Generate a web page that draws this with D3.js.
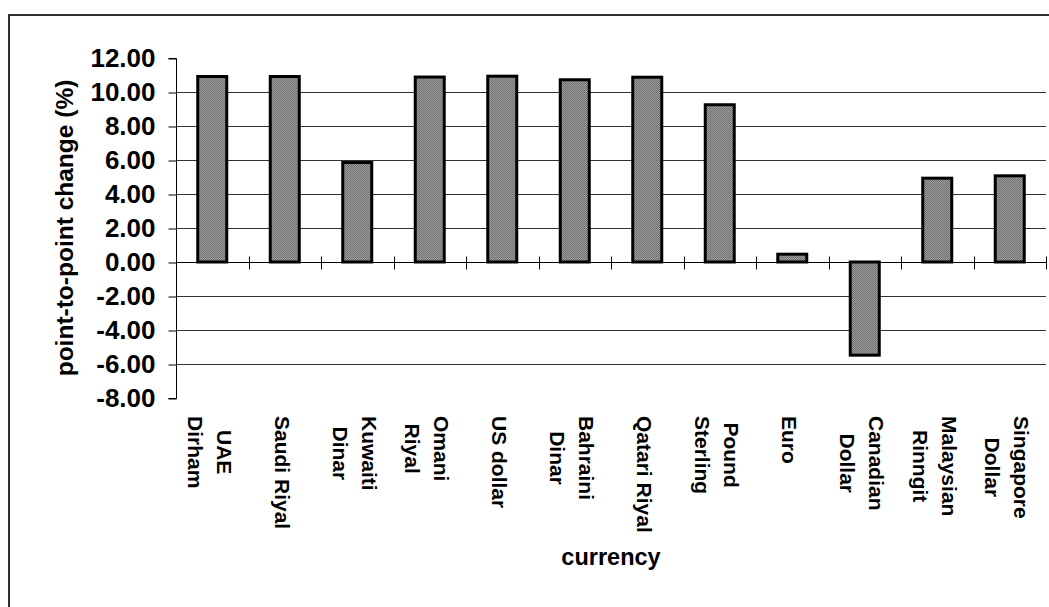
<!DOCTYPE html>
<html>
<head>
<meta charset="utf-8">
<script src="https://cdn.jsdelivr.net/npm/d3@7"></script>
<style>
  html, body { margin: 0; padding: 0; background: #fff; }
  svg { display: block; }
  text { font-family: "Liberation Sans", Arial, sans-serif; font-weight: bold; fill: #000; }
</style>
</head>
<body>
<svg id="chart" width="1049" height="607"></svg>
<script>
// Currencies (label lines) and their point-to-point change in percent
const categories = [
  ["UAE", "Dirham"],
  ["Saudi Riyal"],
  ["Kuwaiti", "Dinar"],
  ["Omani", "Riyal"],
  ["US dollar"],
  ["Bahraini", "Dinar"],
  ["Qatari Riyal"],
  ["Pound", "Sterling"],
  ["Euro"],
  ["Canadian", "Dollar"],
  ["Malaysian", "Rinngit"],
  ["Singapore", "Dollar"]
];
const changes = [10.91, 10.91, 5.85, 10.88, 10.93, 10.72, 10.87, 9.25, 0.46, -5.48, 4.93, 5.07];
const yTicks = [-8, -6, -4, -2, 0, 2, 4, 6, 8, 10, 12];
const yTitle = "point-to-point change (%)";
const xTitle = "currency";

const svg = d3.select("#chart");
const plot = { left: 176, right: 1046, top: 58, bottom: 398 };

// Outer chart frame
svg.append("rect")
  .attr("x", 9).attr("y", 15)
  .attr("width", 1200).attr("height", 800)
  .attr("fill", "#fff")
  .attr("stroke", "#303030").attr("stroke-width", 2);

// Stippled grey fill for the bars
const defs = svg.append("defs");
const pat = defs.append("pattern")
  .attr("id", "stipple")
  .attr("patternUnits", "userSpaceOnUse")
  .attr("width", 2).attr("height", 2);
pat.append("rect").attr("width", 2).attr("height", 2).attr("fill", "#9a9a9a");
pat.append("rect").attr("width", 1).attr("height", 1).attr("fill", "#727272");
pat.append("rect").attr("x", 1).attr("y", 1).attr("width", 1).attr("height", 1).attr("fill", "#727272");

const idx = categories.map((d, i) => i);
const x = d3.scaleBand().domain(idx).range([plot.left, plot.right]).paddingInner(0).paddingOuter(0);
const y = d3.scaleLinear().domain([-8, 12]).range([plot.bottom, plot.top]);

// Horizontal gridlines (not at the top and bottom of the axis)
svg.append("g")
  .selectAll("line")
  .data(yTicks.filter(t => t > -8 && t < 12))
  .join("line")
  .attr("x1", plot.left).attr("x2", plot.right)
  .attr("y1", d => Math.round(y(d)) + 0.5).attr("y2", d => Math.round(y(d)) + 0.5)
  .attr("stroke", "#333").attr("stroke-width", 1);

// Y axis with outward ticks and 2-decimal labels (plain hyphen for negatives)
const fmt = d3.format(".2f");
const yAxis = d3.axisLeft(y).tickValues(yTicks).tickSize(8).tickPadding(13)
  .tickFormat(d => fmt(d).replace("\u2212", "-"));
const gy = svg.append("g").attr("transform", `translate(${plot.left + 0.5},0.5)`).call(yAxis);
gy.select(".domain").attr("stroke", "#000").attr("d", `M-8,${y(-8)}H0V${y(12)}H-8`);
gy.selectAll(".tick line").attr("stroke", "#000");
gy.selectAll(".tick text")
  .attr("font-size", 26)
  .attr("font-family", "Liberation Sans, Arial, sans-serif")
  .attr("font-weight", "bold")
  .attr("fill", "#000");

// Bars
const barW = x.bandwidth() / 2.5;
svg.append("g")
  .selectAll("rect")
  .data(changes)
  .join("rect")
  .attr("x", (d, i) => x(i) + (x.bandwidth() - barW) / 2)
  .attr("width", barW)
  .attr("y", d => y(Math.max(0, d)))
  .attr("height", d => Math.abs(y(d) - y(0)))
  .attr("fill", "url(#stipple)")
  .attr("stroke", "#000").attr("stroke-width", 3);

// Category axis along zero with crossing ticks
const zeroY = Math.round(y(0)) + 0.5;
svg.append("line")
  .attr("x1", plot.left).attr("x2", plot.right)
  .attr("y1", zeroY).attr("y2", zeroY)
  .attr("stroke", "#000");
svg.append("g")
  .selectAll("line")
  .data(idx.slice(1).concat([categories.length]))
  .join("line")
  .attr("x1", d => Math.round(d < categories.length ? x(d) : plot.right) + 0.5)
  .attr("x2", d => Math.round(d < categories.length ? x(d) : plot.right) + 0.5)
  .attr("y1", zeroY - 6).attr("y2", zeroY + 7)
  .attr("stroke", "#000");

// Rotated category labels below the plot
const labelTop = 416;
const lineGap = 29;
const labels = svg.append("g")
  .selectAll("g")
  .data(categories)
  .join("g")
  .attr("transform", (d, i) => `translate(${x(i) + x.bandwidth() / 2},0) rotate(90)`);
labels.each(function (lines) {
  const g = d3.select(this);
  const t = g.append("text").attr("font-size", 21).attr("text-anchor", "middle");
  const spans = lines.map((s, j) =>
    t.append("tspan")
      .attr("y", 10 - (lineGap / 2) * (lines.length - 1) + lineGap * j)
      .text(s));
  const maxLen = d3.max(spans, sp => sp.node().getComputedTextLength());
  spans.forEach(sp => sp.attr("x", labelTop + maxLen / 2));
});

// Axis titles
svg.append("text")
  .attr("transform", `translate(73,${(plot.top + plot.bottom) / 2}) rotate(-90)`)
  .attr("text-anchor", "middle")
  .attr("font-size", 24.5)
  .text(yTitle);

svg.append("text")
  .attr("x", (plot.left + plot.right) / 2)
  .attr("y", 565)
  .attr("text-anchor", "middle")
  .attr("font-size", 23.5)
  .text(xTitle);
</script>
</body>
</html>
